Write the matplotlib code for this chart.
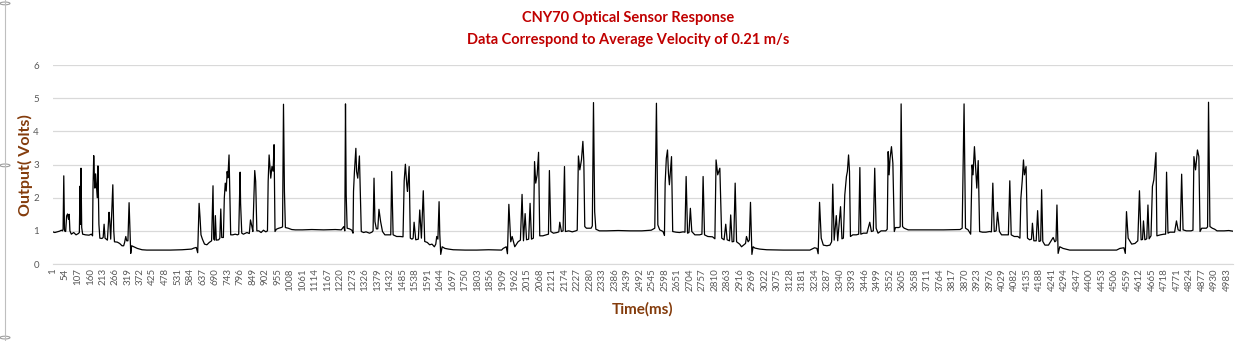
import matplotlib
matplotlib.use('Agg')
import matplotlib.pyplot as plt
from matplotlib.patches import Circle
from matplotlib.lines import Line2D

plt.rcParams['font.family'] = ['Lato', 'DejaVu Sans']

# sensor output, (time in ms, volts) breakpoints
time_ms = [
    1, 10, 20, 30, 38, 42, 45, 48, 51, 56, 60, 64, 68, 71, 74, 80, 90, 100, 110, 114,
    117, 119, 121, 124, 128, 140, 155, 165, 170, 172, 175, 178, 180, 183, 186, 190, 193, 197, 201, 210,
    215, 219, 223, 233, 237, 240, 243, 247, 252, 256, 260, 263, 275, 285, 295, 302, 306, 311, 315, 320,
    325, 328, 332, 336, 345, 360, 380, 400, 450, 500, 550, 590, 600, 610, 616, 622, 626, 630, 636, 645,
    655, 665, 675, 681, 684, 688, 691, 695, 705, 710, 714, 718, 725, 729, 733, 737, 741, 744, 749, 752,
    756, 765, 775, 785, 790, 796, 798, 803, 810, 825, 835, 840, 846, 850, 858, 862, 867, 875, 885, 895,
    905, 912, 915, 919, 926, 931, 936, 940, 944, 950, 960, 970, 976, 980, 984, 988, 1000, 1015, 1030, 1060,
    1100, 1150, 1200, 1225, 1236, 1240, 1243, 1246, 1250, 1260, 1270, 1275, 1277, 1281, 1287, 1290, 1295, 1302, 1306, 1310,
    1320, 1330, 1345, 1355, 1360, 1364, 1368, 1374, 1380, 1385, 1392, 1400, 1410, 1425, 1435, 1439, 1445, 1460, 1475, 1487,
    1492, 1497, 1503, 1506, 1513, 1518, 1525, 1530, 1534, 1541, 1552, 1558, 1565, 1573, 1579, 1590, 1600, 1610, 1620, 1626,
    1630, 1635, 1640, 1643, 1647, 1653, 1665, 1680, 1700, 1750, 1800, 1850, 1905, 1912, 1925, 1930, 1936, 1944, 1950, 1961,
    1975, 1985, 1992, 1998, 2005, 2011, 2020, 2026, 2032, 2040, 2045, 2050, 2056, 2062, 2067, 2080, 2095, 2104, 2108, 2114,
    2125, 2140, 2148, 2152, 2159, 2166, 2172, 2176, 2190, 2205, 2220, 2226, 2231, 2237, 2244, 2250, 2254, 2258, 2265, 2285,
    2290, 2295, 2300, 2305, 2320, 2350, 2400, 2450, 2500, 2540, 2555, 2562, 2568, 2576, 2590, 2596, 2599, 2604, 2609, 2613,
    2617, 2626, 2631, 2645, 2660, 2675, 2683, 2688, 2694, 2700, 2706, 2712, 2725, 2745, 2755, 2760, 2766, 2780, 2800, 2810,
    2815, 2822, 2831, 2839, 2849, 2856, 2862, 2872, 2877, 2883, 2890, 2896, 2902, 2915, 2923, 2940, 2944, 2951, 2956, 2961,
    2967, 2972, 2980, 3000, 3030, 3100, 3150, 3213, 3233, 3243, 3248, 3254, 3261, 3270, 3285, 3298, 3305, 3310, 3316, 3325,
    3331, 3343, 3349, 3355, 3361, 3368, 3372, 3377, 3381, 3385, 3395, 3410, 3420, 3425, 3429, 3440, 3455, 3467, 3474, 3482,
    3488, 3494, 3502, 3515, 3535, 3541, 3545, 3549, 3553, 3559, 3565, 3571, 3576, 3590, 3596, 3600, 3606, 3613, 3630, 3700,
    3780, 3850, 3859, 3867, 3873, 3884, 3895, 3901, 3905, 3911, 3917, 3921, 3927, 3933, 3945, 3960, 3975, 3983, 3989, 3995,
    4003, 4009, 4017, 4026, 4040, 4055, 4061, 4067, 4080, 4095, 4104, 4108, 4114, 4119, 4123, 4130, 4136, 4145, 4153, 4157,
    4163, 4173, 4179, 4185, 4192, 4196, 4201, 4210, 4225, 4245, 4252, 4257, 4261, 4266, 4273, 4287, 4315, 4400, 4514, 4528,
    4545, 4551, 4556, 4563, 4578, 4592, 4604, 4611, 4618, 4624, 4628, 4634, 4642, 4647, 4652, 4660, 4666, 4672, 4676, 4681,
    4685, 4700, 4715, 4722, 4726, 4732, 4740, 4760, 4768, 4775, 4784, 4790, 4796, 4810, 4830, 4838, 4842, 4849, 4857, 4863,
    4868, 4875, 4895, 4900, 4904, 4910, 4920, 4930, 4940, 4970, 4990, 5008,
]
output_v = [
    0.97, 0.95, 0.97, 0.99, 1.02, 1.00, 1.05, 2.66, 1.00, 0.98, 1.45, 1.51, 1.35, 1.50, 1.00, 0.90, 0.95, 0.88, 0.92, 0.95,
    2.35, 1.20, 2.89, 1.10, 0.90, 0.88, 0.87, 0.90, 0.85, 2.30, 3.27, 2.60, 2.29, 2.72, 2.40, 2.00, 2.96, 1.20, 0.78, 0.77,
    0.80, 1.20, 0.78, 0.72, 1.20, 1.56, 1.30, 0.75, 1.70, 2.39, 1.00, 0.67, 0.66, 0.62, 0.55, 0.55, 0.65, 0.83, 0.70, 0.70,
    1.85, 1.20, 0.32, 0.55, 0.52, 0.47, 0.43, 0.42, 0.42, 0.42, 0.43, 0.45, 0.48, 0.50, 0.34, 1.83, 1.40, 0.88, 0.75, 0.60,
    0.58, 0.65, 0.70, 2.36, 0.75, 0.72, 1.46, 0.72, 0.73, 0.78, 1.66, 0.80, 0.80, 2.00, 2.44, 2.20, 2.79, 2.60, 3.29, 2.20,
    0.88, 0.88, 0.90, 0.88, 0.90, 2.77, 1.83, 0.93, 0.90, 0.95, 0.92, 1.33, 1.13, 0.98, 2.82, 2.49, 1.00, 1.00, 0.95, 1.02,
    0.97, 1.00, 2.50, 3.29, 2.59, 2.94, 2.80, 3.60, 0.98, 1.05, 1.08, 1.10, 1.12, 4.82, 2.19, 1.10, 1.08, 1.04, 1.03, 1.03,
    1.04, 1.03, 1.04, 1.03, 1.13, 1.00, 4.83, 2.08, 1.08, 1.06, 1.02, 0.93, 2.19, 2.79, 3.49, 2.79, 2.59, 3.26, 2.08, 0.98,
    0.95, 0.97, 0.93, 0.96, 1.00, 2.59, 1.28, 1.06, 1.06, 1.65, 1.28, 0.98, 0.88, 0.88, 0.88, 2.79, 0.88, 0.83, 0.83, 0.82,
    2.51, 3.01, 2.39, 2.19, 2.94, 0.78, 0.75, 0.78, 1.26, 0.73, 0.75, 1.63, 0.78, 2.21, 0.68, 0.65, 0.58, 0.60, 0.52, 0.60,
    0.83, 0.75, 1.88, 0.90, 0.29, 0.52, 0.47, 0.45, 0.43, 0.42, 0.42, 0.43, 0.42, 0.47, 0.52, 0.31, 1.80, 0.67, 0.83, 0.52,
    0.67, 0.72, 2.10, 0.70, 1.52, 0.73, 0.75, 1.83, 0.75, 0.78, 3.09, 2.44, 2.69, 3.37, 0.85, 0.85, 0.88, 0.90, 2.82, 0.98,
    0.93, 0.95, 0.97, 1.26, 0.98, 1.00, 2.94, 0.98, 1.00, 0.97, 1.00, 1.02, 3.26, 2.84, 3.14, 3.70, 3.09, 1.13, 1.08, 1.08,
    1.15, 4.87, 1.58, 1.05, 1.00, 1.00, 1.01, 1.00, 1.00, 1.02, 1.08, 4.85, 1.18, 1.03, 0.98, 0.86, 2.44, 3.19, 3.44, 2.74,
    2.39, 3.24, 0.98, 0.96, 0.95, 0.97, 0.96, 2.64, 0.93, 0.95, 1.68, 0.98, 0.88, 0.88, 0.90, 2.64, 0.88, 0.83, 0.82, 0.76,
    3.14, 2.69, 2.89, 0.78, 0.73, 1.20, 0.73, 0.70, 1.48, 0.67, 0.68, 2.44, 0.67, 0.60, 0.52, 0.62, 0.83, 0.67, 0.72, 1.86,
    0.29, 0.52, 0.48, 0.45, 0.43, 0.42, 0.42, 0.42, 0.49, 0.47, 0.31, 1.86, 0.78, 0.57, 0.55, 0.57, 0.67, 2.41, 0.72, 1.46,
    0.70, 1.73, 0.76, 0.78, 2.08, 2.64, 2.79, 3.29, 2.79, 0.83, 0.88, 0.88, 0.90, 2.91, 0.90, 0.93, 0.93, 1.26, 0.98, 1.00,
    2.89, 1.08, 0.93, 1.00, 1.00, 1.05, 3.39, 2.69, 3.19, 3.54, 3.04, 0.98, 1.10, 1.10, 1.12, 4.83, 1.13, 1.08, 1.03, 1.03,
    1.03, 1.04, 1.08, 4.83, 1.08, 1.03, 0.90, 2.99, 2.69, 3.54, 2.79, 2.29, 3.12, 0.98, 0.96, 0.96, 0.98, 0.97, 2.44, 0.98,
    1.00, 1.56, 0.98, 0.88, 0.88, 0.88, 2.51, 0.88, 0.83, 0.83, 0.78, 1.98, 2.54, 3.14, 2.69, 2.94, 0.78, 0.73, 0.75, 1.23,
    0.70, 0.70, 1.61, 0.68, 0.70, 2.24, 0.68, 0.57, 0.57, 0.80, 0.67, 0.70, 1.78, 0.32, 0.52, 0.47, 0.42, 0.42, 0.42, 0.47,
    0.49, 0.32, 1.58, 0.78, 0.60, 0.62, 0.70, 2.21, 0.73, 0.74, 1.30, 0.73, 0.76, 1.78, 0.76, 0.85, 2.34, 2.54, 2.89, 3.36,
    0.85, 0.88, 0.90, 0.90, 2.77, 0.93, 0.96, 0.96, 1.30, 1.03, 1.00, 2.71, 1.03, 1.00, 1.00, 1.02, 3.24, 2.84, 3.44, 3.24,
    0.98, 1.08, 1.08, 1.12, 4.88, 1.13, 1.08, 1.05, 1.00, 1.00, 1.01, 0.99,
]

# excel category labels, one every 53 samples
tick_pos = list(range(1, 5008, 53))
tick_labels = [str(t) for t in tick_pos]

title_line1 = 'CNY70 Optical Sensor Response'
title_line2 = 'Data Correspond to Average Velocity of 0.21 m/s'

fig = plt.figure(figsize=(12.46, 3.41), dpi=100)
ax = fig.add_axes([0.0423, 0.2258, 0.9473, 0.5832])

ax.plot(time_ms, output_v, color='black', lw=0.9)

ax.set_xlim(1, 5008)
ax.set_ylim(0, 6)
ax.set_yticks(range(0, 7))
ax.set_xticks(tick_pos)
ax.set_xticklabels(tick_labels, rotation=90)
ax.tick_params(axis='both', length=0, labelsize=7, colors='#595959')
ax.tick_params(axis='y', pad=10)
ax.tick_params(axis='x', pad=3)
ax.grid(axis='y', color='#d9d9d9', lw=0.9)
ax.set_axisbelow(True)
for s in ['top', 'right', 'left']:
    ax.spines[s].set_visible(False)
ax.spines['bottom'].set_color('#d9d9d9')

ax.set_ylabel('Output( Volts)', color='#843c0c', fontsize=11.5, fontweight='bold', labelpad=0)
ax.set_xlabel('Time(ms)', color='#843c0c', fontsize=11, fontweight='bold', labelpad=8)
fig.text(0.504, 0.947, title_line1, ha='center', va='center', color='#c00000',
         fontsize=10.5, fontweight='bold')
fig.text(0.504, 0.883, title_line2, ha='center', va='center', color='#c00000',
         fontsize=10.5, fontweight='bold')

# chart-frame selection handles on the screenshot edge
fig.add_artist(Line2D([0.004, 0.004], [0.0, 1.0], color='#bfbfbf', lw=0.8))
for y in [0.01, 0.515, 0.99]:
    fig.add_artist(Circle((0.004, y), 0.004, transform=fig.transFigure,
                          facecolor='white', edgecolor='#9f9f9f', lw=0.8))

fig.savefig('out.png', dpi=100)
